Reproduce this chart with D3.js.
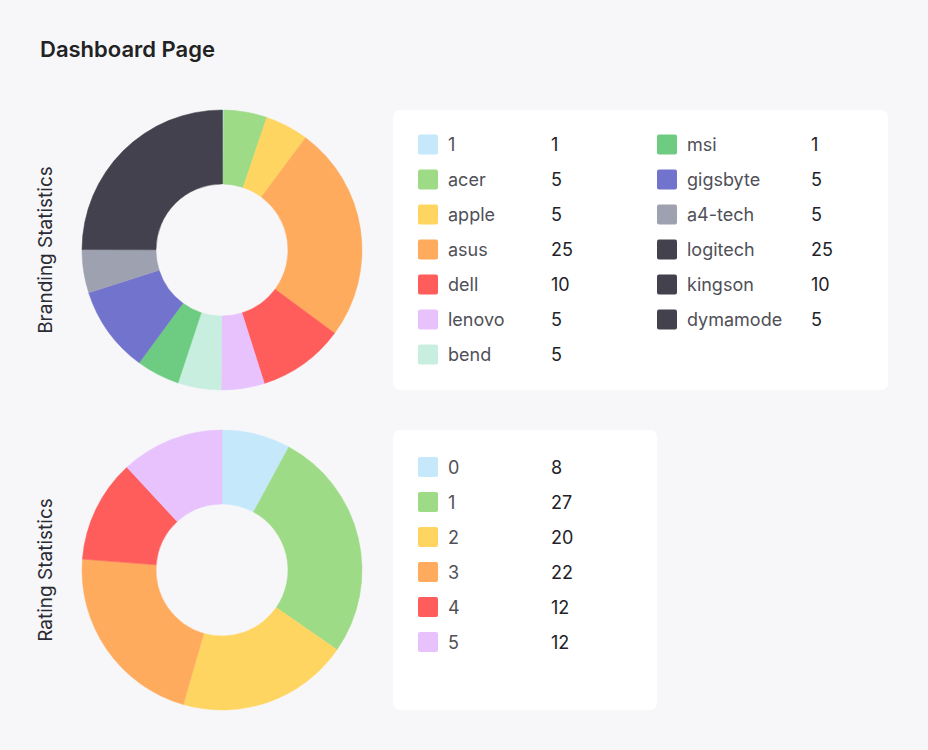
<!DOCTYPE html>
<html>
<head>
<meta charset="utf-8">
<script src="https://cdn.jsdelivr.net/npm/d3@7"></script>
<style>
  html, body { margin: 0; padding: 0; background: #f7f7f9; }
  svg { display: block; font-family: "Inter", "Open Sans", sans-serif; }
</style>
</head>
<body>
<svg id="chart" width="928" height="750"></svg>
<script>
// ---------- data ----------
const brandNames  = ["1", "acer", "apple", "asus", "dell", "lenovo", "bend", "msi", "gigsbyte", "a4-tech", "logitech", "kingson", "dymamode"];
const brandLegendValues = [1, 5, 5, 25, 10, 5, 5, 1, 5, 5, 25, 10, 5];
// slice sizes as drawn in the reference donut
const brandSliceValues  = [0.2, 5, 5, 25, 10, 5, 5, 5, 10, 5, 25, 0, 0];
const brandColors = ["#c5e8fb", "#9edb87", "#ffd562", "#ffab5e", "#ff5c5c", "#e7c2fd", "#c8eee0", "#6ecc82", "#7273cd", "#9ea2b0", "#42414d", "#42414d", "#42414d"];

const ratingNames  = ["0", "1", "2", "3", "4", "5"];
const ratingValues = [8, 27, 20, 22, 12, 12];
const ratingColors = ["#c5e8fb", "#9edb87", "#ffd562", "#ffab5e", "#ff5c5c", "#e7c2fd"];

const title = "Dashboard Page";
const brandAxisTitle = "Branding Statistics";
const ratingAxisTitle = "Rating Statistics";

// ---------- drawing ----------
const svg = d3.select("#chart");

svg.append("text")
  .attr("x", 40).attr("y", 57)
  .attr("font-size", 22).attr("font-weight", 600)
  .attr("fill", "#222")
  .text(title);

function donut(cy, names, values, colors, axisTitle) {
  const cx = 222, rOuter = 140, rInner = 66;
  const g = svg.append("g").attr("transform", `translate(${cx},${cy})`);
  const pie = d3.pie().sort(null).value(d => d.v);
  const arc = d3.arc().innerRadius(rInner).outerRadius(rOuter);
  const data = names.map((n, i) => ({ n, v: values[i], c: colors[i] }));
  g.selectAll("path").data(pie(data)).join("path")
    .attr("d", arc)
    .attr("fill", d => d.data.c)
    .attr("stroke", d => d.data.c)
    .attr("stroke-width", 0.5);

  svg.append("text")
    .attr("transform", `translate(52,${cy}) rotate(-90)`)
    .attr("text-anchor", "middle")
    .attr("font-size", 19)
    .attr("fill", "#2b2b33")
    .text(axisTitle);
}

function legend(x, y, w, h, firstRow, names, values, colors, perCol) {
  svg.append("rect")
    .attr("x", x).attr("y", y).attr("width", w).attr("height", h)
    .attr("rx", 7).attr("fill", "#ffffff");
  const colX = [25, 264];      // swatch offset of each column
  const valX = [133, 154];     // value offset within each column
  const items = names.map((n, i) => ({ n, v: values[i], c: colors[i], i, col: Math.floor(i / perCol) }));
  const rowY = d3.scaleLinear().domain([0, 1]).range([firstRow, firstRow + 35]);
  const g = svg.append("g");
  const item = g.selectAll("g").data(items).join("g")
    .attr("transform", d => `translate(${x + colX[d.col]},${rowY(d.i % perCol)})`);
  item.append("rect")
    .attr("x", 0).attr("y", -10).attr("width", 20).attr("height", 20)
    .attr("rx", 2).attr("fill", d => d.c);
  item.append("text")
    .attr("x", 30).attr("y", 6.5)
    .attr("font-size", 18).attr("fill", "#505058")
    .text(d => d.n);
  item.append("text")
    .attr("x", d => valX[d.col]).attr("y", 6.5)
    .attr("font-size", 18).attr("fill", "#222228")
    .text(d => d.v);
}

donut(250, brandNames, brandSliceValues, brandColors, brandAxisTitle);
legend(393, 110, 495, 280, 144.5, brandNames, brandLegendValues, brandColors, 7);

donut(570, ratingNames, ratingValues, ratingColors, ratingAxisTitle);
legend(393, 430, 264, 280, 467, ratingNames, ratingValues, ratingColors, 7);
</script>
</body>
</html>
